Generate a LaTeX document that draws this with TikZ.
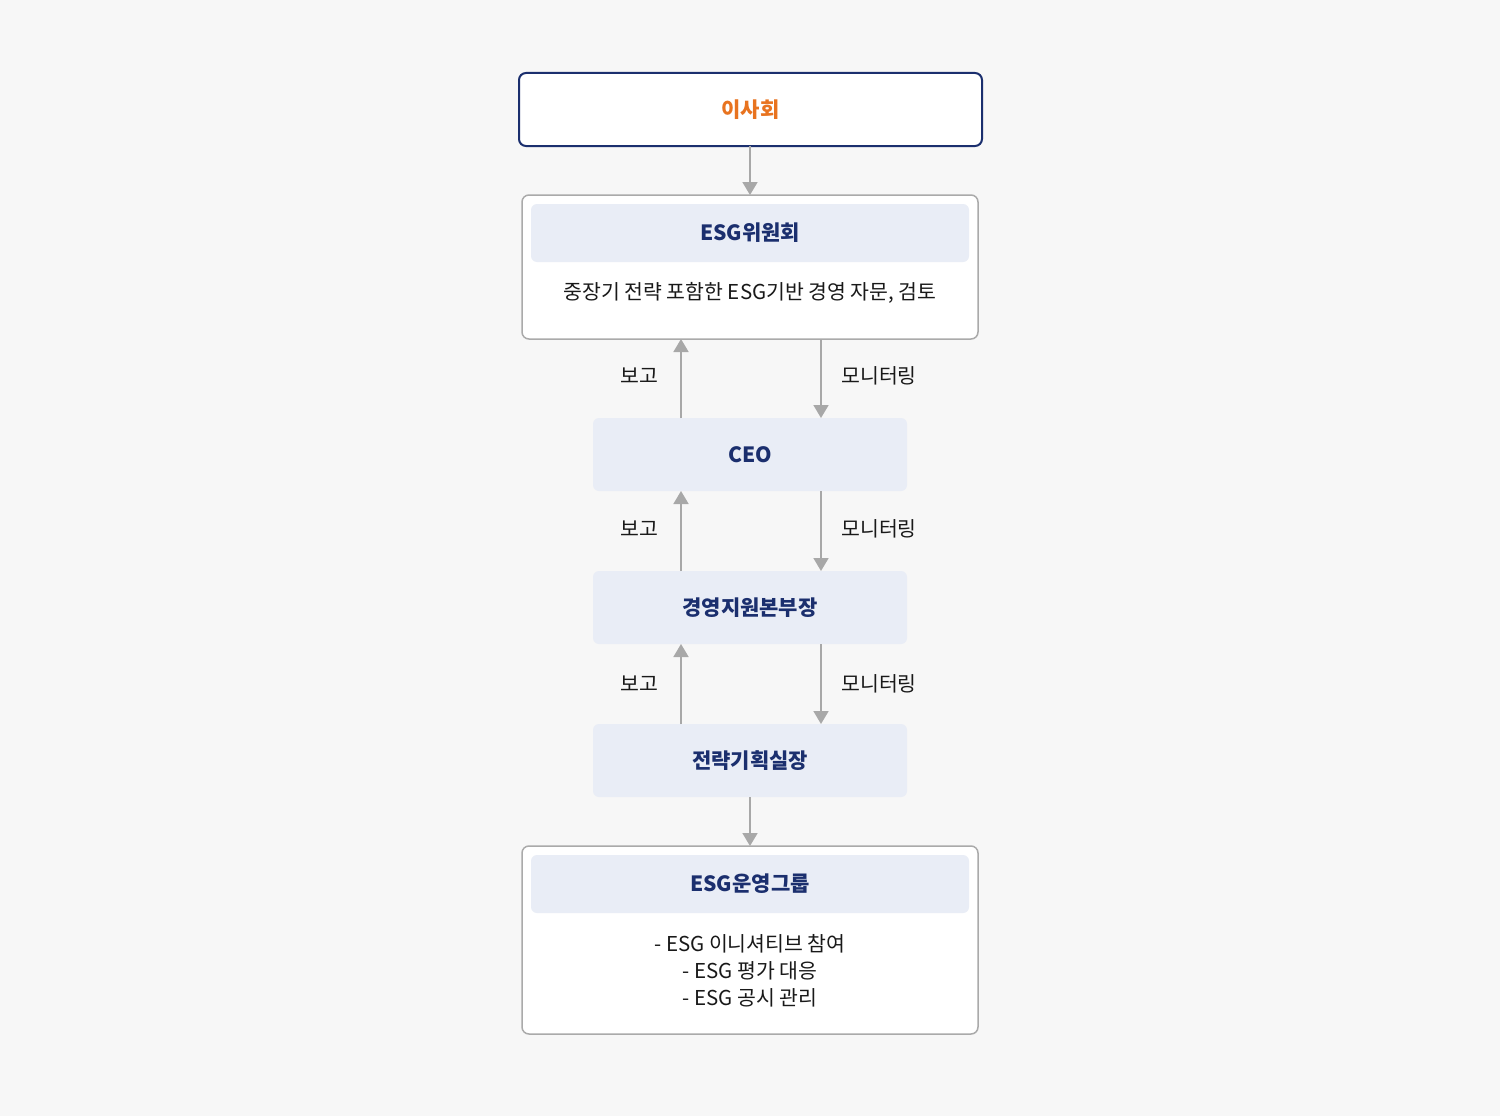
\documentclass[tikz,border=0pt]{standalone}
\usepackage{fontspec}
\setmainfont{Noto Sans CJK KR}
\usetikzlibrary{arrows.meta}
\definecolor{bg}{HTML}{F7F7F7}
\definecolor{navy}{HTML}{1B2F6E}
\definecolor{orng}{HTML}{E8731F}
\definecolor{pale}{HTML}{E9EDF6}
\definecolor{gry}{HTML}{A8A8A8}
\definecolor{obord}{HTML}{AAAAAA}
\tikzset{
  pbox/.style={fill=pale,draw=none,rounded corners=6pt},
  obox/.style={fill=white,draw=obord,line width=1.5pt,rounded corners=7pt},
  ttl/.style={font=\fontsize{21}{24}\selectfont\bfseries,text=navy},
  txt/.style={font=\fontsize{20.5}{27}\selectfont,text=black!90},
  arr/.style={draw=gry,line width=1.8pt,-{Triangle[width=15pt,length=13pt]}}
}
\begin{document}
\begin{tikzpicture}[x=1pt,y=-1pt]
\fill[bg] (0,0) rectangle (1500,1116);
\useasboundingbox (0,0) rectangle (1500,1116);
% board
\node[draw=navy,line width=2pt,fill=white,rounded corners=7pt,minimum width=463pt,minimum height=73pt] (board) at (750.5,109.5) {};
\node[font=\fontsize{21}{24}\selectfont\bfseries,text=orng] at (board) {이사회};
\coordinate (boardBot) at (750,146);
% ESG committee
\draw[obox] (522,195) rectangle (978,339);
\coordinate (comTop) at (750,195);
\coordinate (comBotL) at (681,339);
\coordinate (comBotR) at (821,339);
\node[pbox,minimum width=438pt,minimum height=58pt] (comH) at (750,233) {};
\node[ttl] at (comH) {ESG위원회};
\node[txt] (comT) at (750,293) {중장기 전략 포함한 ESG기반 경영 자문, 검토};
% CEO etc
\node[pbox,minimum width=314pt,minimum height=73pt] (ceo) at (750,454.5) {};
\node[ttl] at (ceo) {CEO};
\node[pbox,minimum width=314pt,minimum height=73pt] (mgmt) at (750,607.5) {};
\node[ttl] at (mgmt) {경영지원본부장};
\node[pbox,minimum width=314pt,minimum height=73pt] (strat) at (750,760.5) {};
\node[ttl] at (strat) {전략기획실장};
% ESG group
\draw[obox] (522,846) rectangle (978,1034);
\coordinate (grpTop) at (750,846);
\node[pbox,minimum width=438pt,minimum height=58pt] (grpH) at (750,884) {};
\node[ttl] at (grpH) {ESG운영그룹};
\node[txt,align=center] (grpT) at (750,971) {- ESG 이니셔티브 참여\\- ESG 평가 대응\\- ESG 공시 관리};
% arrows
\draw[arr] (boardBot) -- (comTop);
\draw[arr] (681,418) -- (comBotL);
\draw[arr] (comBotR) -- (821,418);
\draw[arr] (681,571) -- (681,491);
\draw[arr] (821,491) -- (821,571);
\draw[arr] (681,724) -- (681,644);
\draw[arr] (821,644) -- (821,724);
\draw[arr] (strat.south) -- (grpTop);
% labels
\foreach \y in {376,529,684}{
  \node[txt] at (639,\y) {보고};
  \node[txt] at (879,\y) {모니터링};
}
\end{tikzpicture}
\end{document}
